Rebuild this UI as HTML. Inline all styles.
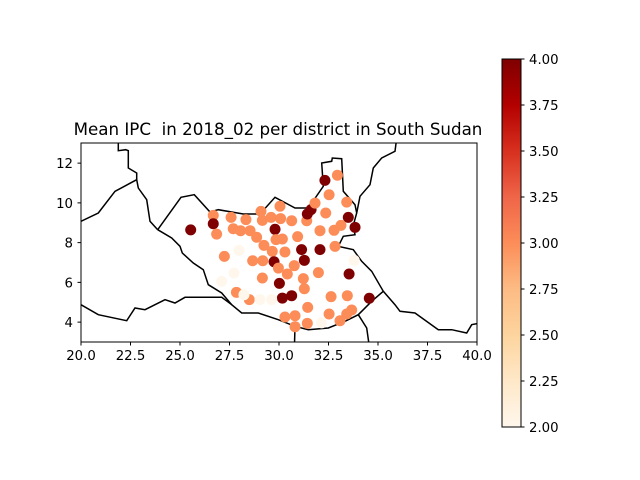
<!DOCTYPE html>
<html><head><meta charset="utf-8"><style>
body{margin:0;background:#fff}
svg{display:block;font-family:"DejaVu Sans","Liberation Sans",sans-serif}
</style></head><body>
<svg id="c" width="640" height="480">
<defs><linearGradient id="g" x1="0" y1="1" x2="0" y2="0">
<stop offset="0" stop-color="#fff7ec"/><stop offset="0.125" stop-color="#fee8c8"/><stop offset="0.25" stop-color="#fdd49e"/><stop offset="0.375" stop-color="#fdbb84"/><stop offset="0.5" stop-color="#fc8d59"/><stop offset="0.625" stop-color="#ef6548"/><stop offset="0.75" stop-color="#d7301f"/><stop offset="0.875" stop-color="#b30000"/><stop offset="1" stop-color="#7f0000"/>
</linearGradient><clipPath id="clip"><rect x="81" y="143" width="396" height="199"/></clipPath></defs>
<text x="278" y="135" text-anchor="middle" font-size="16.7" xml:space="preserve">Mean IPC  in 2018_02 per district in South Sudan</text>
<g id="map" clip-path="url(#clip)" fill="none" stroke="#000" stroke-width="1.5"></g>
<g id="pts" clip-path="url(#clip)"></g>
<rect x="81" y="143" width="396" height="199" fill="none" stroke="#000" stroke-width="1"/>
<g id="axes" font-size="13.3"></g>
<rect x="502" y="59" width="19" height="368" fill="url(#g)" stroke="#000" stroke-width="1"/>
<g id="cb" font-size="13.3"></g>
</svg>
<script>
const lon=[25.54,26.68,26.68,26.85,27.58,27.69,28.06,28.33,28.54,28.87,29.09,29.16,29.60,29.80,29.85,30.05,30.08,30.17,30.64,30.94,29.24,29.66,30.30,31.14,31.40,31.43,31.62,31.82,32.07,32.07,32.36,32.32,32.95,32.53,33.42,33.50,33.84,33.13,32.78,32.83,31.28,29.75,29.97,30.77,30.42,29.16,28.67,29.18,27.24,27.98,27.73,27.10,30.02,31.23,31.99,33.54,33.80,31.28,30.17,30.64,27.85,28.50,29.04,29.63,28.23,31.45,32.63,33.45,34.56,30.30,30.81,30.81,31.43,32.15,32.53,33.08,33.42,33.67];
const lat=[8.64,9.37,8.95,8.43,9.27,8.70,8.60,9.16,8.60,8.27,9.57,9.12,9.27,8.67,8.15,9.83,9.21,8.18,9.10,8.30,7.86,7.56,7.53,7.65,9.10,9.44,9.66,9.99,8.60,7.65,9.49,11.13,11.39,10.41,10.04,9.27,8.77,8.87,8.62,7.81,7.11,7.04,6.72,6.84,6.42,6.22,7.09,7.09,7.31,7.61,6.47,6.05,5.95,6.19,6.49,6.42,7.11,5.68,5.21,5.33,5.50,5.13,5.13,5.13,5.38,4.74,5.28,5.33,5.20,4.26,4.32,3.77,3.94,3.96,4.41,4.07,4.41,4.61];
const ipc=[4,3,4,3,3,3,3,3,3,3,3,3,3,4,3,3,3,3,3,3,3,3,3,4,3,4,4,3,3,4,3,4,3,3,3,4,4,3,3,3,4,4,3,3,3,3,3,3,3,2,2,2,4,3,3,4,2,3,4,4,3,3,2,2,2,3,3,3,4,3,3,3,3,2,3,3,3,3];
const xTicks=[20,22.5,25,27.5,30,32.5,35,37.5,40];
const yTicks=[4,6,8,10,12];
const cbTicks=[2,2.25,2.5,2.75,3,3.25,3.5,3.75,4];
const NS="http://www.w3.org/2000/svg";
const X=v=>81+(v-20)*19.8, Y=v=>342-(v-3)*19.875, CB=v=>427-(v-2)/2*368;
const stops=["#fff7ec","#fee8c8","#fdd49e","#fdbb84","#fc8d59","#ef6548","#d7301f","#b30000","#7f0000"];
function col(v){let t=Math.max(0,Math.min(1,(v-2)/2))*8,i=Math.min(7,Math.floor(t)),f=t-i;
const a=stops[i],b=stops[i+1],h=(s,k)=>parseInt(s.substr(1+2*k,2),16);
return "rgb("+[0,1,2].map(k=>Math.round(h(a,k)+(h(b,k)-h(a,k))*f)).join(",")+")";}
function mk(t,a,p){const e=document.createElementNS(NS,t);for(const k in a)e.setAttribute(k,a[k]);p.appendChild(e);return e;}
const lines=[
[248,275,318,178,358,170,405,222,430,215,505,228,555,228,600,178,660,210,700,210,745,145,740,75,770,70,772,60,800,62,805,160,840,200,845,225,835,262,840,290,805,295,790,325,835,335,860,370,890,400,925,460,890,490,850,530,810,550,760,570,700,575,660,565,610,545,550,525,500,525,470,500,440,465,400,440,385,395,355,375,322,345,315,325,290,300,248,275],
[0,255,18,250,70,225,120,160,185,125,190,150,215,185,225,250,248,275],
[130,0,130,38,152,35,160,38,160,90,185,105,185,125],
[845,225,855,175,885,140,895,90,920,60,960,40,965,0],
[925,460,960,500,975,520,1020,525,1090,575,1130,575,1175,585,1190,560,1215,555],
[0,495,18,500,70,530,155,548,180,510,210,515,240,500,270,485,300,495,330,478,440,478,470,500],
[660,565,658,640],[850,530,875,570,885,640]];
const map=document.getElementById('map');
lines.forEach(l=>{let p=[];for(let i=0;i<l.length;i+=2)p.push((75+l[i]/3).toFixed(1)+","+(138+l[i+1]/3).toFixed(1));
const e=mk('polyline',{points:p.join(' ')},map);

});
const pts=document.getElementById('pts');
lon.forEach((v,i)=>{const e=mk('circle',{cx:X(v),cy:Y(lat[i]),r:5.5,fill:col(ipc[i])},pts);

});
const ax=document.getElementById('axes');
xTicks.forEach(v=>{mk('line',{x1:X(v),x2:X(v),y1:342,y2:345.5,stroke:'#000'},ax);
const t=mk('text',{x:X(v),y:360,'text-anchor':'middle'},ax);t.textContent=v.toFixed(1);

});
yTicks.forEach(v=>{mk('line',{x1:77.5,x2:81,y1:Y(v),y2:Y(v),stroke:'#000'},ax);
const t=mk('text',{x:73,y:Y(v)+5,'text-anchor':'end'},ax);t.textContent=v;

});
const cb=document.getElementById('cb');
cbTicks.forEach(v=>{mk('line',{x1:521,x2:524.5,y1:CB(v),y2:CB(v),stroke:'#000'},cb);
const t=mk('text',{x:529,y:CB(v)+5},cb);t.textContent=v.toFixed(2);

});
</script>
</body></html>
